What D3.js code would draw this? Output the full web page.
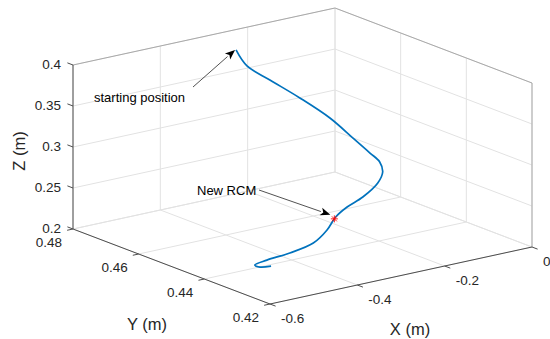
<!DOCTYPE html>
<html><head><meta charset="utf-8">
<script src="https://cdn.jsdelivr.net/npm/d3@7"></script>
<style>body{margin:0;background:#fff} svg{display:block}</style>
</head><body><svg id="c" width="550" height="339"></svg>
<script>
// ---- data ----
const xTicks = [-0.6, -0.4, -0.2, 0];
const yTicks = [0.42, 0.44, 0.46, 0.48];
const zTicks = [0.2, 0.25, 0.3, 0.35, 0.4];
const xTickLabels = ["-0.6", "-0.4", "-0.2", "0"];
const yTickLabels = ["0.42", "0.44", "0.46", "0.48"];
const zTickLabels = ["0.2", "0.25", "0.3", "0.35", "0.4"];
const pathX = [-0.289,-0.303,-0.292,-0.270,-0.256,-0.252,-0.253,-0.248,-0.254,-0.278,-0.322,-0.358,-0.391,-0.428,-0.473,-0.520,-0.562,-0.586,-0.580,-0.557];
const pathY = [0.4717,0.4665,0.4610,0.4548,0.4475,0.4410,0.4357,0.4334,0.4317,0.4300,0.4287,0.4287,0.4278,0.4255,0.4237,0.4246,0.4260,0.4265,0.4257,0.4254];
const pathZ = [0.395,0.385,0.375,0.360,0.345,0.330,0.320,0.312,0.303,0.295,0.285,0.277,0.270,0.262,0.254,0.246,0.240,0.236,0.234,0.233];
const rcmX = [-0.400], rcmY = [0.427], rcmZ = [0.270];
const annotations = ["starting position", "New RCM"];
const axisLabels = ["X (m)", "Y (m)", "Z (m)"];

// ---- projection (orthographic, MATLAB default view) ----
const xDom = [-0.6, 0], yDom = [0.42, 0.48], zDom = [0.2, 0.4];
const fx = d3.scaleLinear().domain(xDom).range([0, 1]);
const fy = d3.scaleLinear().domain(yDom).range([0, 1]);
const fz = d3.scaleLinear().domain(zDom).range([0, 1]);
const O = [270, 304], vX = [262, -57], vY = [-197, -75], vZ = [0, -164];
function P(x, y, z) {
  const a = fx(x), b = fy(y), c = fz(z);
  return [O[0] + a*vX[0] + b*vY[0] + c*vZ[0], O[1] + a*vX[1] + b*vY[1] + c*vZ[1]];
}
const svg = d3.select("#c");
const font = "'Liberation Sans', Arial, Helvetica, sans-serif";
const line = d3.line();
function seg(g, p1, p2, color, w) {
  g.append("path").attr("d", line([p1, p2])).attr("stroke", color).attr("stroke-width", w).attr("fill", "none");
}
const [x0, x1] = xDom, [y0, y1] = yDom, [z0, z1] = zDom;

// grid
const grid = svg.append("g");
const gc = "#e2e2e2";
zTicks.forEach(z => { seg(grid, P(x0, y1, z), P(x1, y1, z), gc, 1); seg(grid, P(x1, y0, z), P(x1, y1, z), gc, 1); });
xTicks.forEach(x => { seg(grid, P(x, y1, z0), P(x, y1, z1), gc, 1); seg(grid, P(x, y0, z0), P(x, y1, z0), gc, 1); });
yTicks.forEach(y => { seg(grid, P(x1, y, z0), P(x1, y, z1), gc, 1); seg(grid, P(x0, y, z0), P(x1, y, z0), gc, 1); });

// back box edges
const bc = "#a9a9a9";
seg(grid, P(x0, y1, z1), P(x1, y1, z1), bc, 1);
seg(grid, P(x1, y1, z1), P(x1, y0, z1), bc, 1);
seg(grid, P(x1, y0, z0), P(x1, y0, z1), bc, 1);

// axes
const ac = "#4d4d4d";
const ax = svg.append("g");
seg(ax, P(x0, y0, z0), P(x1, y0, z0), ac, 1);
seg(ax, P(x0, y0, z0), P(x0, y1, z0), ac, 1);
seg(ax, P(x0, y1, z0), P(x0, y1, z1), ac, 1);

function unit(v) { const l = Math.hypot(v[0], v[1]); return [v[0]/l, v[1]/l]; }
const tl = 6;
const uY = unit(vY), uX = unit(vX);
// Z ticks
zTicks.forEach((z, i) => {
  const p = P(x0, y1, z);
  seg(ax, p, [p[0] + uY[0]*tl, p[1] + uY[1]*tl], ac, 1);
  ax.append("text").attr("x", p[0] - 12).attr("y", p[1] - 1).attr("dy", "0.35em")
    .attr("text-anchor", "end").attr("font-family", font).attr("font-size", 13.5).attr("fill", "#262626").text(zTickLabels[i]);
});
// Y ticks
yTicks.forEach((y, i) => {
  const p = P(x0, y, z0);
  seg(ax, p, [p[0] - uX[0]*tl, p[1] - uX[1]*tl], ac, 1);
  ax.append("text").attr("x", p[0] - 11).attr("y", p[1] + 13).attr("dy", "0.35em")
    .attr("text-anchor", "end").attr("font-family", font).attr("font-size", 13.5).attr("fill", "#262626").text(yTickLabels[i]);
});
// X ticks
xTicks.forEach((x, i) => {
  const p = P(x, y0, z0);
  seg(ax, p, [p[0] - uY[0]*tl, p[1] - uY[1]*tl], ac, 1);
  ax.append("text").attr("x", p[0] + 11).attr("y", p[1] + 14).attr("dy", "0.35em")
    .attr("text-anchor", "start").attr("font-family", font).attr("font-size", 13.5).attr("fill", "#262626").text(xTickLabels[i]);
});

// axis labels
ax.append("text").attr("x", 410).attr("y", 329).attr("dy", "0.35em").attr("text-anchor", "middle")
  .attr("font-family", font).attr("font-size", 16.5).attr("fill", "#262626").text(axisLabels[0]);
ax.append("text").attr("x", 147).attr("y", 324).attr("dy", "0.35em").attr("text-anchor", "middle")
  .attr("font-family", font).attr("font-size", 16.5).attr("fill", "#262626").text(axisLabels[1]);
ax.append("text").attr("transform", "translate(19,151) rotate(-90)").attr("dy", "0.35em").attr("text-anchor", "middle")
  .attr("font-family", font).attr("font-size", 16.5).attr("fill", "#262626").text(axisLabels[2]);

// trajectory
const pts = pathX.map((x, i) => P(x, pathY[i], pathZ[i]));
svg.append("path").attr("d", d3.line().curve(d3.curveCatmullRom.alpha(0.5))(pts))
  .attr("fill", "none").attr("stroke", "#0072BD").attr("stroke-width", 1.7);

// RCM asterisk
const rp = P(rcmX[0], rcmY[0], rcmZ[0]);
const ast = svg.append("g").attr("stroke", "#ff0000").attr("stroke-width", 0.9);
const r = 3.5;
[[r,0],[0,r],[r*0.7,r*0.7],[r*0.7,-r*0.7]].forEach(d => seg(ast, [rp[0]-d[0], rp[1]-d[1]], [rp[0]+d[0], rp[1]+d[1]], "#ff0000", 0.9));

// annotations
function arrow(from, to) {
  const d = unit([to[0]-from[0], to[1]-from[1]]);
  const L = 10, W = 4;
  const base = [to[0] - d[0]*L, to[1] - d[1]*L];
  seg(svg, from, base, "#262626", 0.8);
  svg.append("path").attr("d", line([[to[0], to[1]], [base[0] - d[1]*W, base[1] + d[0]*W], [base[0] + d[0]*2.5, base[1] + d[1]*2.5], [base[0] + d[1]*W, base[1] - d[0]*W]]) + "Z")
    .attr("fill", "#000");
}
const sp = pts[0];
arrow([193, 87], [sp[0] - 1, sp[1]]);
svg.append("text").attr("x", 94).attr("y", 97).attr("dy", "0.35em").attr("font-family", font)
  .attr("font-size", 13).attr("fill", "#000").text(annotations[0]);
arrow([259, 190], [rp[0] - 4, rp[1] - 4]);
svg.append("text").attr("x", 197).attr("y", 190).attr("dy", "0.35em").attr("font-family", font)
  .attr("font-size", 13).attr("fill", "#000").text(annotations[1]);
</script></body></html>
